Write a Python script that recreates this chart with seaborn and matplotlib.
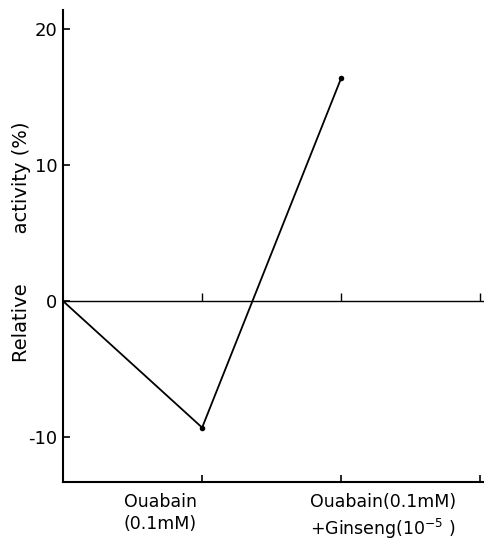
import matplotlib
matplotlib.use('Agg')
import matplotlib.pyplot as plt
import seaborn as sns
import pandas as pd

# ---- data ----
conditions = [0, 1, 2]
relative_activity = [0.0, -9.3, 16.4]
y_ticks = [-10, 0, 10, 20]
x_ticks = [1, 2, 3]
x_label_pos = [0.7, 2.3]
x_labels = ["Ouabain\n(0.1mM)", "Ouabain(0.1mM)\n+Ginseng(10$^{-5}$ )"]

sns.set_style('ticks')
plt.rcParams['font.family'] = ['DejaVu Sans']
plt.rcParams['axes.unicode_minus'] = False
for k in ['text.color', 'axes.labelcolor', 'xtick.color', 'ytick.color',
          'axes.edgecolor']:
    plt.rcParams[k] = 'black'

df = pd.DataFrame({'x': conditions, 'y': relative_activity})

fig = plt.figure(figsize=(4.85, 5.45), dpi=100)
ax = fig.add_axes([0.13, 0.1156, 0.866, 0.866])

sns.lineplot(data=df, x='x', y='y', ax=ax, color='black', linewidth=1.3,
             marker='o', markersize=4, markevery=[1, 2], markeredgewidth=0)

ax.set_xlim(0, 3.02)
ax.set_ylim(-13.3, 21.4)

for s in ['top', 'right']:
    ax.spines[s].set_visible(False)
for s in ['left', 'bottom']:
    ax.spines[s].set_linewidth(1.5)
    ax.spines[s].set_color('black')

ax.set_yticks(y_ticks)
ax.set_yticklabels([str(t) for t in y_ticks])
ax.tick_params(axis='y', direction='in', length=5, width=1.2, labelsize=13, pad=4,
               colors='black')

ax.set_xticks(x_ticks)
ax.set_xticklabels([])
ax.set_xticks(x_label_pos, minor=True)
ax.set_xticklabels(x_labels, minor=True, fontsize=12.5, linespacing=1.3)
ax.tick_params(axis='x', which='major', direction='in', length=5, width=1.2,
               colors='black')
ax.tick_params(axis='x', which='minor', length=0, pad=8, labelcolor='black')

ax.set_xlabel('')
ax.set_ylabel('Relative        activity (%)', fontsize=14, color='black')
ax.yaxis.set_label_coords(-0.076, 0.51)

# zero line with its own upward ticks
ax2 = ax.twiny()
ax2.set_xlim(ax.get_xlim())
for s in ['bottom', 'left', 'right']:
    ax2.spines[s].set_visible(False)
ax2.spines['top'].set_position(('data', 0))
ax2.spines['top'].set_linewidth(1.0)
ax2.spines['top'].set_color('black')
ax2.set_xticks(x_ticks)
ax2.tick_params(axis='x', direction='out', length=6, width=1.0, labeltop=False,
                colors='black')

fig.savefig('out.png', dpi=100)
